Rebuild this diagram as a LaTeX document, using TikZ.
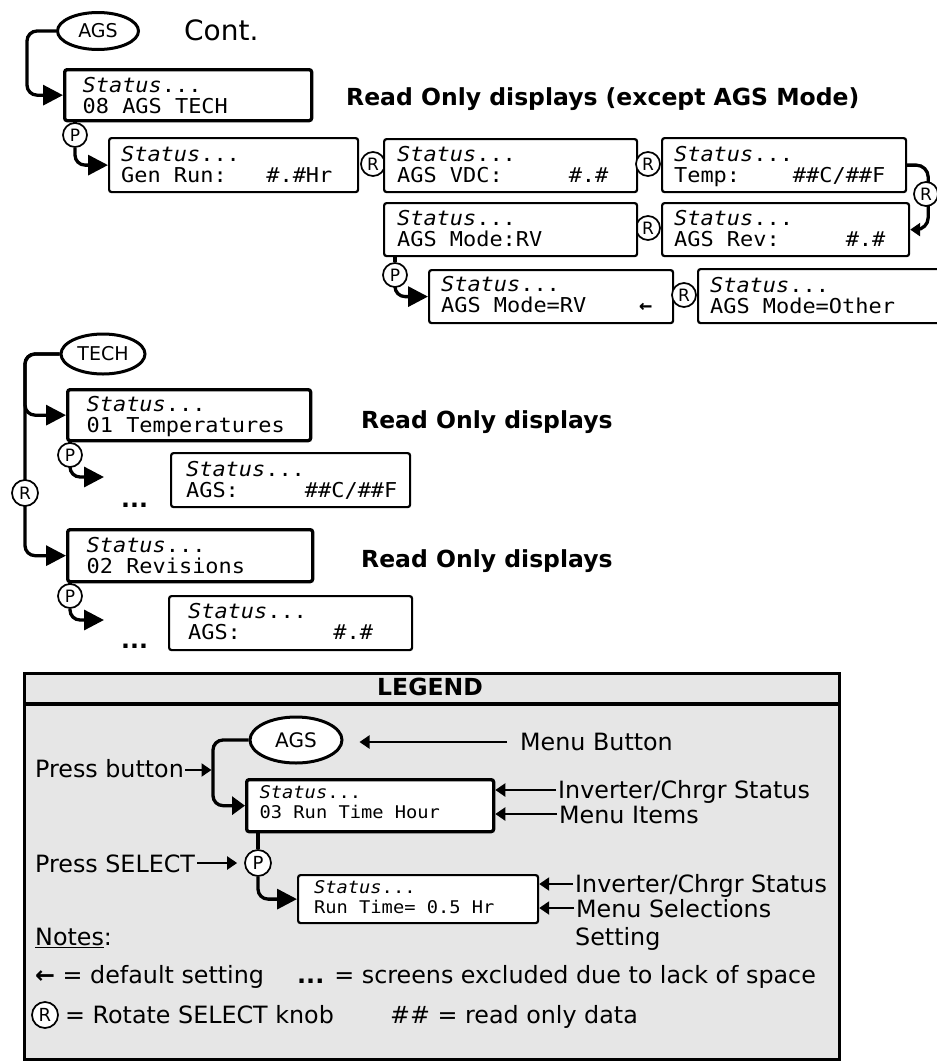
\documentclass[tikz,border=0pt]{standalone}
\usepackage{fontspec}
\setmainfont{DejaVu Sans}
\newfontfamily\lcdfam[FakeStretch=1.07]{DejaVu Sans Mono}
\usetikzlibrary{arrows.meta,shapes.geometric,backgrounds}
\definecolor{leggray}{HTML}{E6E6E6}
\newcommand\lcdmain{\lcdfam\fontsize{20.5}{21}\selectfont}
\newcommand\lcdsmall{\lcdfam\fontsize{17.5}{20}\selectfont}
\def\lcdls{21}
% #1 style, #2 name, #3 x, #4 y, #5 w, #6 h, #7 left pad, #8 bottom gap, #9 second line
\newcommand\lcd[9]{%
  \node[lcdbox,#1,minimum width=#5pt,minimum height=#6pt] (#2) at (#3,#4) {};
  \node[lcdtxt,#1] (#2a) at (#3+#7,#4+#6-#8-\lcdls) {\textit{Status}...};
  \node[lcdtxt,#1] (#2b) at (#3+#7,#4+#6-#8) {#9};
}
\tikzset{
  lcdbox/.style={draw, rectangle, rounded corners=2.5pt, fill=white, anchor=north west, inner sep=0pt, line width=2.2pt},
  lcdtxt/.style={draw=none, fill=none, anchor=base west, inner sep=0pt, font=\lcdmain},
  menu/.style={line width=3.3pt},
  disp/.style={line width=2.2pt},
  small/.style={font=\lcdsmall},
  knob/.style={circle, draw, line width=1.7pt, fill=white, inner sep=0pt, minimum size=24pt, font=\fontsize{17}{17}\selectfont},
  lknob/.style={minimum size=26pt, font=\fontsize{18}{18}\selectfont},
  ell/.style={ellipse, draw, line width=3pt, fill=white, inner sep=0pt},
  conn/.style={line width=3.3pt, rounded corners=10pt},
  bigarrow/.style={-{Triangle[length=20pt,width=20pt]}},
  midarrow/.style={-{Triangle[length=13pt,width=18pt]}},
  smallarrow/.style={-{Triangle[length=10pt,width=13pt]}},
  larr/.style={line width=2.2pt, -{Triangle[length=10pt,width=13pt]}},
  ltxt/.style={anchor=base west, inner sep=0pt, font=\fontsize{23.8}{26}\selectfont},
  btxt/.style={anchor=base west, inner sep=0pt, font=\bfseries\fontsize{23.5}{26}\selectfont},
}
\begin{document}
\begin{tikzpicture}[x=1pt,y=-1pt]
\useasboundingbox (0,0) rectangle (937,1061);

% ---------- top: AGS cont.
\node[ell, minimum width=81pt, minimum height=37pt, font=\fontsize{19}{19}\selectfont] (a1) at (98,31) {AGS};
\node[anchor=base west, inner sep=0pt, font=\fontsize{28}{30}\selectfont] (cont) at (184,40) {Cont.};
\lcd{menu}{b1}{63}{68}{247}{51}{18}{6}{08~AGS~TECH}
\node[btxt] (ro1) at (346,105) {Read Only displays (except AGS Mode)};
\node[knob] (p1) at (75,135) {P};
\lcd{disp}{b2}{108}{137}{249}{54}{12}{9}{Gen~Run:~~~\#.\#Hr}
\node[knob] (r1) at (373,164) {R};
\lcd{disp}{b3}{383}{138}{253}{53}{13}{9}{AGS~VDC:~~~~~\#.\#}
\node[knob] (r2) at (648,164) {R};
\lcd{disp}{b4}{661}{137}{244}{54}{12}{9}{Temp:~~~~\#\#C/\#\#F}
\node[knob] (r3) at (926,194) {R};
\lcd{disp}{b5}{661}{202}{247}{53}{12}{9}{AGS~Rev:~~~~~\#.\#}
\node[knob] (r4) at (648,228) {R};
\lcd{disp}{b6}{383}{202}{253}{53}{13}{9}{AGS~Mode:RV}
\node[knob] (p2) at (395,275) {P};
\lcd{disp}{b7}{428}{269}{244}{53}{12}{10}{AGS~Mode=RV~~~~\textbf{←}}
\node[knob] (r5) at (684,295) {R};
\lcd{disp}{b8}{697}{268}{262}{54}{12}{9}{AGS~Mode=Other}

% ---------- TECH
\node[ell, minimum width=84pt, minimum height=40pt, font=\fontsize{19}{19}\selectfont] (a2) at (103,354) {TECH};
\lcd{menu}{b9}{66}{388}{243}{51}{19}{7}{01~Temperatures}
\node[btxt] (ro2) at (361,428) {Read Only displays};
\node[knob] (p3) at (70,455) {P};
\coordinate (c1) at (104,477);
\node[btxt] (d1) at (121,507) {...};
\lcd{disp}{b11}{170}{452}{239}{54}{15}{9}{AGS:~~~~~\#\#C/\#\#F}
\node[knob, minimum size=26pt] (r6) at (25,493) {R};
\lcd{menu}{b10}{66}{528}{245}{52}{19}{7}{02~Revisions}
\node[btxt] (ro3) at (361,567) {Read Only displays};
\node[knob] (p4) at (70,596) {P};
\coordinate (c2) at (104,620);
\node[btxt] (d2) at (121,648) {...};
\lcd{disp}{b12}{168}{595}{243}{54}{19}{10}{AGS:~~~~~~~\#.\#}

% ---------- legend
\begin{scope}[on background layer]
  \node[draw, line width=3.3pt, fill=leggray, minimum width=815pt, minimum height=386pt, anchor=north west, inner sep=0pt] (leg) at (23,672) {};
  \draw[line width=3.3pt] ([yshift=-32pt]leg.north west) -- ([yshift=-32pt]leg.north east);
\end{scope}
\node[btxt, anchor=base] (legt) at (430,695) {LEGEND};
\node[ell, minimum width=92pt, minimum height=46pt, font=\fontsize{20}{20}\selectfont] (a3) at (296,740) {AGS};
\node[ltxt] (mb) at (520,750) {Menu Button};
\node[ltxt] (pb) at (35,777) {Press button};
\def\lcdls{20}
\lcd{menu,small}{b13}{245}{778}{247}{52}{13}{12}{03~Run~Time~Hour}
\node[ltxt] (inv1) at (558,798) {Inverter/Chrgr Status};
\node[ltxt] (mi) at (559,823) {Menu Items};
\node[ltxt] (psel) at (35,872) {Press SELECT};
\node[knob, lknob] (p5) at (258,863) {P};
\lcd{disp,small}{b14}{297}{874}{240}{48}{16}{9}{Run~Time=~0.5~Hr}
\node[ltxt] (inv2) at (575,892) {Inverter/Chrgr Status};
\node[ltxt] (ms) at (576,917) {Menu Selections};
\node[ltxt] (set) at (575,945) {Setting};
\node[ltxt] (notes) at (35,945) {\underline{Notes}:};
\node[ltxt] (n1) at (35,983) {\textbf{←} = default setting};
\node[ltxt] (n2) at (297,983) {\textbf{...} = screens excluded due to lack of space};
\node[knob, lknob] (r7) at (45,1015) {R};
\node[ltxt] (n3) at (65,1023) {= Rotate SELECT knob};
\node[ltxt] (n4) at (390,1023) {\#\# = read only data};
\coordinate (t1) at (27,0);
\coordinate (lv) at (213,0);

% ---------- connectors
\begin{scope}[on background layer]
  % top
  \draw[conn, bigarrow] (a1.west) -| (b1.west -| t1) -- (b1.west);
  \draw[conn] (b1.south -| p1.center) -- (p1.north);
  \draw[conn, bigarrow] (p1.south) |- (b2.west);
  \draw[conn, smallarrow, rounded corners=12pt] (b4.east) -- ++(21,0) |- (b5.east);
  \draw[conn] (b6.south -| p2.center) -- (p2.north);
  \draw[conn, bigarrow] (p2.south) |- (b7.west);
  % TECH
  \draw[conn, bigarrow] (a2.west) -| (b9.west -| r6.center) -- (b9.west);
  \draw[conn, bigarrow] (a2.west) -| (b10.west -| r6.center) -- (b10.west);
  \draw[conn] (b9.south -| p3.center) -- (p3.north);
  \draw[conn, bigarrow] (p3.south) |- (c1);
  \draw[conn] (b10.south -| p4.center) -- (p4.north);
  \draw[conn, bigarrow] (p4.south) |- (c2);
  % legend
  \draw[conn, midarrow] (a3.west) -| (b13.west -| lv) -- (b13.west);
  \draw[conn] (b13.south -| p5.center) -- (p5.north);
  \draw[conn, bigarrow] (p5.south) |- (b14.west);
  \draw[larr, shorten >=16pt] ([xshift=-13pt,yshift=8pt]mb.base west) -- ([yshift=8pt]mb.base west -| a3.east);
  \draw[larr, shorten >=1.5pt] ([xshift=1pt,yshift=7pt]pb.base east) -- ([yshift=7pt]pb.base east -| lv);
  \draw[larr, shorten >=7pt] ([xshift=2pt,yshift=9pt]psel.base east) -- ([yshift=9pt]psel.base east -| p5.west);
  \draw[larr] ([xshift=-2pt,yshift=8pt]inv1.base west) -- ([yshift=8pt]inv1.base west -| b13.east);
  \draw[larr] ([xshift=-2pt,yshift=9pt]mi.base west) -- ([yshift=9pt]mi.base west -| b13.east);
  \draw[larr] ([xshift=-2pt,yshift=8pt]inv2.base west) -- ([yshift=8pt]inv2.base west -| b14.east);
  \draw[larr] ([xshift=-2pt,yshift=9pt]ms.base west) -- ([yshift=9pt]ms.base west -| b14.east);
\end{scope}
\end{tikzpicture}
\end{document}
